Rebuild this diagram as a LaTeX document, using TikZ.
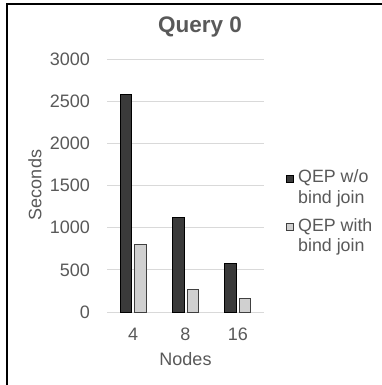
\documentclass[tikz,border=0pt]{standalone}
\usepackage{fontspec}
\setmainfont{Liberation Sans}
\definecolor{txt}{HTML}{595959}
\definecolor{grid}{HTML}{D9D9D9}
\definecolor{darkbar}{HTML}{3A3A3A}
\definecolor{lightbar}{HTML}{D0D0D0}
\begin{document}
\begin{tikzpicture}[x=1pt,y=-1pt,
  lbl/.style={text=txt,font=\fontsize{18}{20}\selectfont,inner sep=0pt},
  leg/.style={text=txt,font=\fontsize{17.8}{19}\selectfont,inner sep=0pt,anchor=west},
  gridline/.style={draw=grid,line width=0.8pt},
  darkb/.style={fill=darkbar,draw=black,line width=1pt},
  lightb/.style={fill=lightbar,draw=black!75,line width=1pt}]
\useasboundingbox (0,0) rectangle (382,385);
\fill[white] (0,0) rectangle (382,385);
% frame (left and top visible)
\draw[line width=2pt] (7,385) -- (7,4) -- (382,4);
% title
\node[text=txt,font=\fontsize{22.5}{24}\bfseries\selectfont,inner sep=0pt] (title) at (200,27) {Query 0};
% gridlines and tick labels
\foreach \v in {0,500,...,3000}{
  \pgfmathsetmacro{\yy}{312-\v*0.0843}
  \draw[gridline] (107,\yy) -- (264,\yy);
  \node[lbl,anchor=east] (t\v) at (90,\yy) {\v};
}
% bars
\foreach \c/\d/\l/\n in {133.2/2575/800/4, 185.5/1125/270/8, 237.8/570/155/16}{
  \pgfmathsetmacro{\yd}{312-\d*0.0843}
  \pgfmathsetmacro{\yl}{312-\l*0.0843}
  \draw[darkb] (\c-13,312) rectangle (\c-1.5,\yd);
  \draw[lightb] (\c+1.5,312) rectangle (\c+13,\yl);
  \node[lbl] (x\n) at (\c,334) {\n};
}
% axis titles
\node[lbl] (xtitle) at (185.5,359) {Nodes};
\node[lbl,rotate=90] (ytitle) at (35,185) {Seconds};
% legend
\draw[darkb,line width=0.8pt] (286,175) rectangle (293,182);
\node[leg] (l1a) at (298,178) {QEP w/o};
\node[leg] (l1b) at (298,198.5) {bind join};
\draw[lightb,line width=0.8pt] (286,223) rectangle (293,230);
\node[leg] (l2a) at (298,226.5) {QEP with};
\node[leg] (l2b) at (298,247) {bind join};
\end{tikzpicture}
\end{document}
